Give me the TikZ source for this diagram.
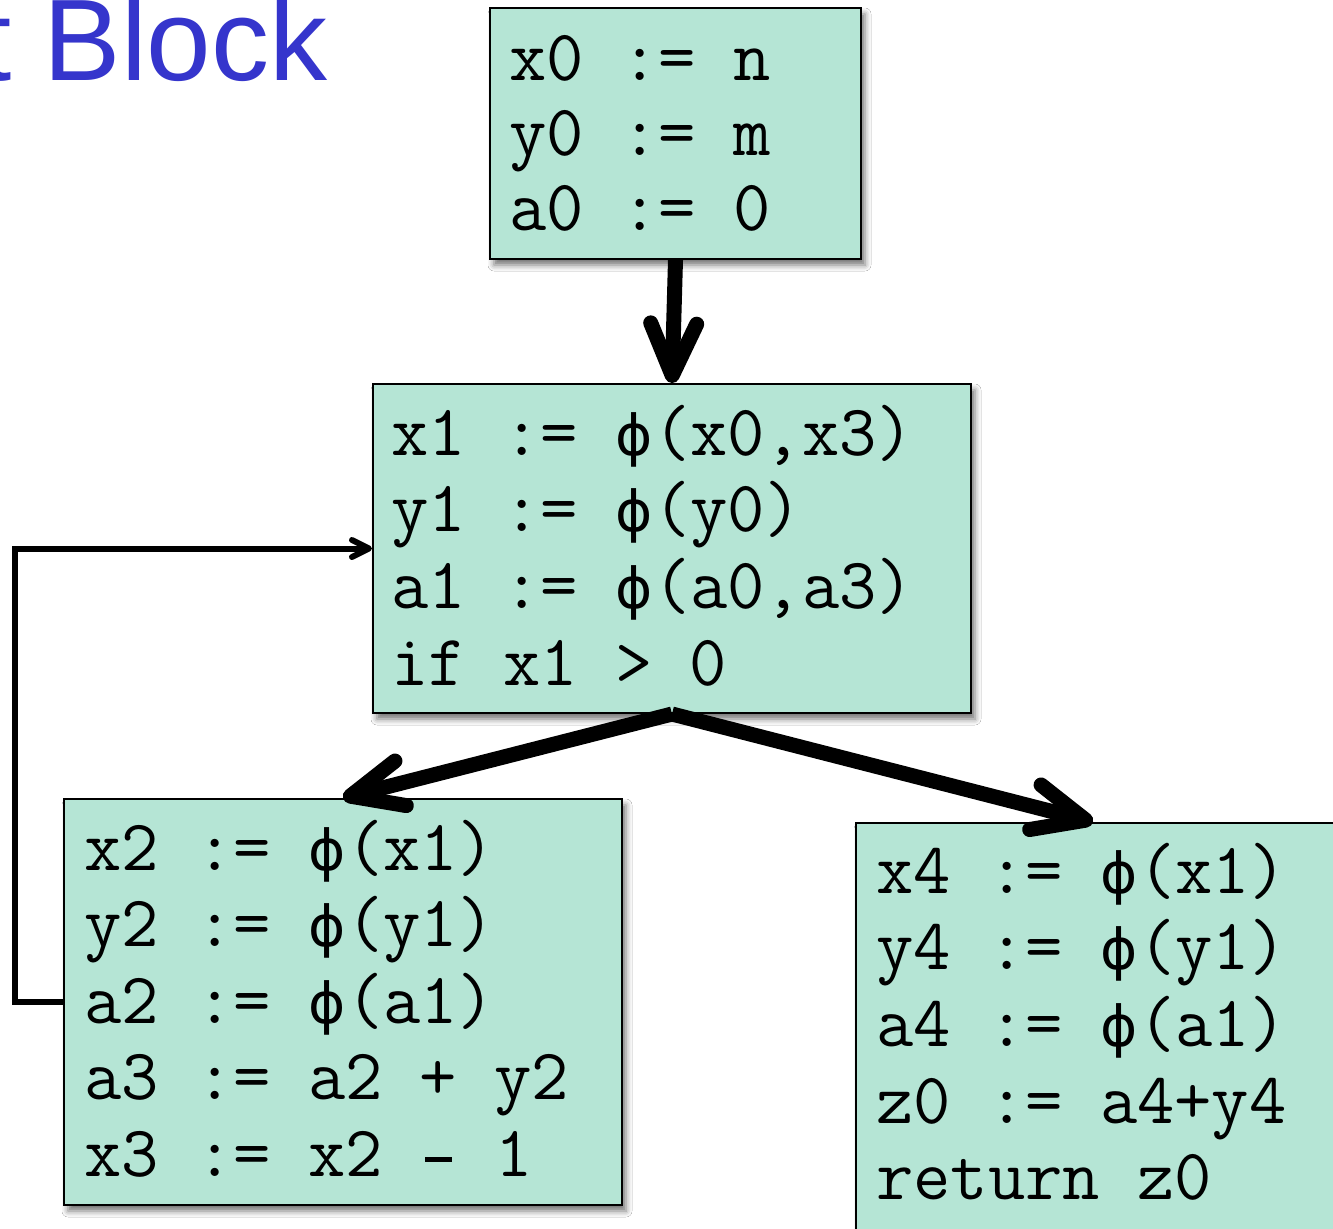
\documentclass[tikz,border=0pt]{standalone}
\usepackage{fontspec}
\usetikzlibrary{arrows.meta,shadows.blur}
\newfontfamily\phifont[Scale=0.78]{DejaVu Sans}
\newfontfamily\titlefont{Liberation Sans}
\definecolor{blockfill}{RGB}{181,229,213}
\definecolor{titleblue}{RGB}{53,53,204}
% phi and minus, each set in one monospace cell
\newcommand\ph{\makebox[0.525em][c]{\phifont ϕ}}
\newcommand\mn{\makebox[0.525em][c]{\rule[7pt]{13.5pt}{2.4pt}}}
\begin{document}
\begin{tikzpicture}[x=0.5pt,y=-0.5pt,
  block/.style={draw=black, line width=1pt, fill=blockfill, rectangle,
    inner sep=0pt, anchor=north west,
    blur shadow={shadow xshift=2pt, shadow yshift=-3pt,
      shadow blur radius=3pt, shadow opacity=55}},
  code/.style={anchor=base west, inner sep=0pt,
    font=\fontsize{36.2}{40}\selectfont\ttfamily},
  flow/.style={line width=7.5pt,
    -{Straight Barb[length=26pt,width=23pt,round]}},
  back/.style={line width=3pt,
    -{Straight Barb[length=8.5pt,width=8.5pt,round]}}]
\useasboundingbox (0,0) rectangle (1333,1228);
\clip (0,0) rectangle (1333,1228);
\fill[white] (0,0) rectangle (1333,1228);

% heading
\node[anchor=base west, inner sep=0pt, text=titleblue,
  font=\titlefont\fontsize{58}{60}\selectfont] (title) at (-21,80) {t Block};

% basic blocks
\node[block, minimum width=185.5pt, minimum height=125.5pt] (A) at (489,7) {};
\node[block, minimum width=299pt,   minimum height=164.5pt] (B) at (372,383) {};
\node[block, minimum width=279pt,   minimum height=203pt]   (C) at (63,798) {};
\node[block, minimum width=260pt,   minimum height=225pt]   (D) at (855,822) {};

% block contents
\foreach \t [count=\i] in {{x0 := n},{y0 := m},{a0 := 0}}
  \node[code] (A\i) at (509,{80+75*(\i-1)}) {\t};
\foreach \t [count=\i] in {{x1 := \ph(x0,x3)},{y1 := \ph(y0)},{a1 := \ph(a0,a3)},{if x1 > 0}}
  \node[code] (B\i) at (391,{455+76.7*(\i-1)}) {\t};
\foreach \t [count=\i] in {{x2 := \ph(x1)},{y2 := \ph(y1)},{a2 := \ph(a1)},{a3 := a2 + y2},{x3 := x2 \mn{} 1}}
  \node[code] (C\i) at (84,{870+76.5*(\i-1)}) {\t};
\foreach \t [count=\i] in {{x4 := \ph(x1)},{y4 := \ph(y1)},{a4 := \ph(a1)},{z0 := a4+y4},{return z0}}
  \node[code] (D\i) at (876,{893+76.7*(\i-1)}) {\t};

% control flow edges
\draw[flow] (A.south) -- (B.north);
\draw[flow] (B.south) -- (C.north);
\draw[flow] (B.south) -- ([xshift=119pt]D.north west);
\draw[back] (C.west) -- ++(-48,0) |- (B.west);
\end{tikzpicture}
\end{document}
